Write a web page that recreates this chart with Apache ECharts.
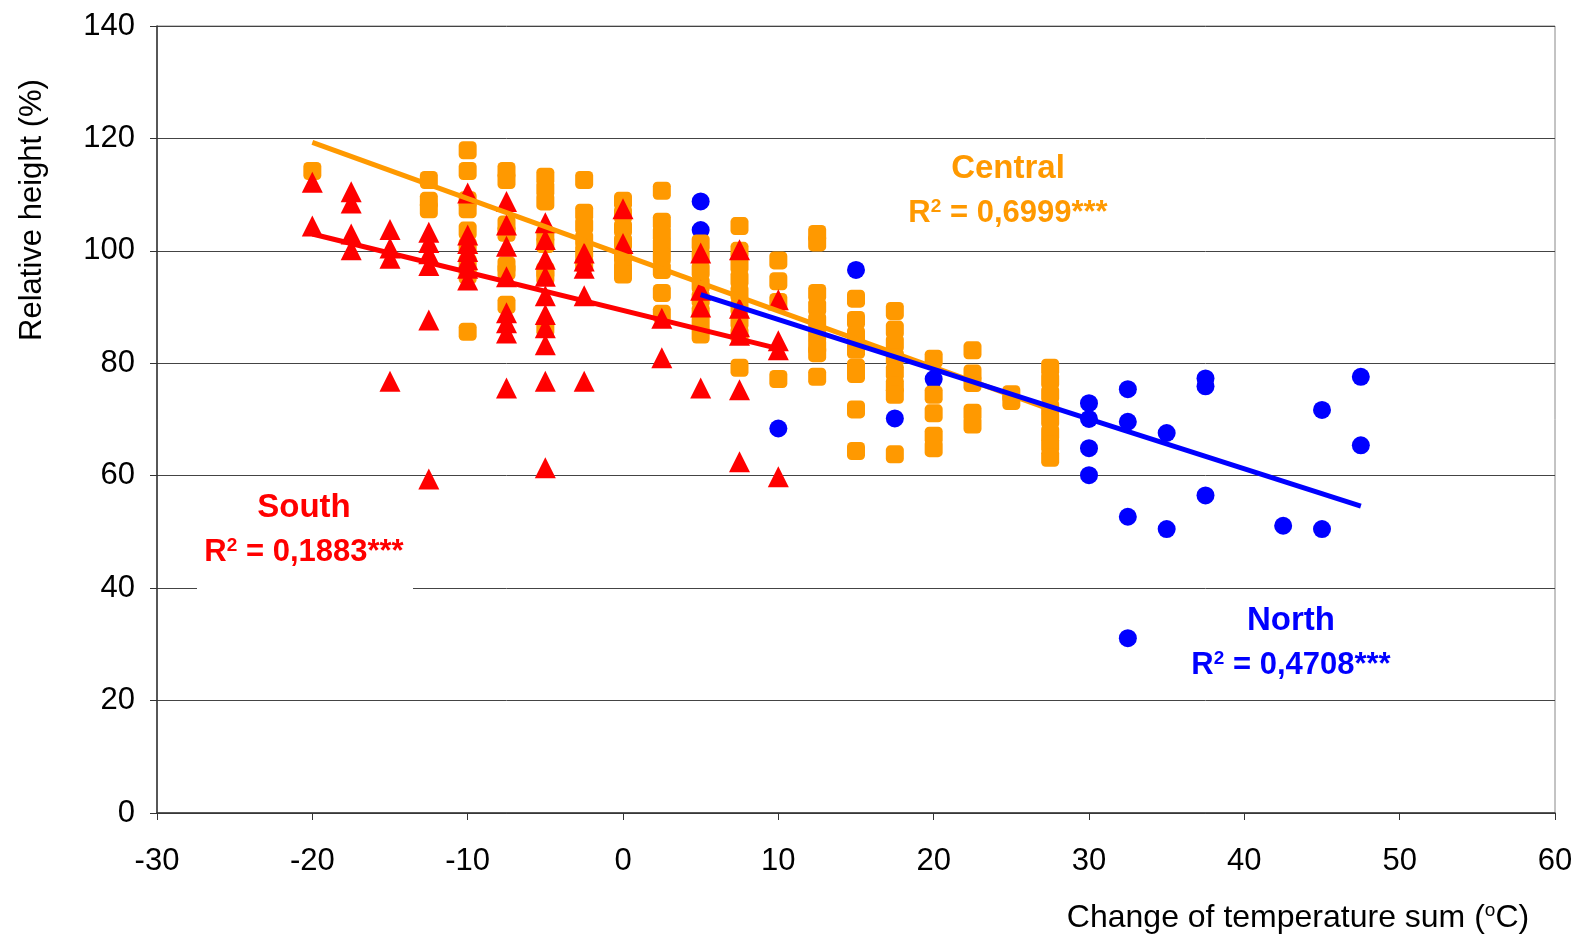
<!DOCTYPE html>
<html>
<head>
<meta charset="utf-8">
<script src="https://cdn.jsdelivr.net/npm/echarts@6/dist/echarts.min.js"></script>
<style>
html,body{margin:0;padding:0;background:#fff;}
#chart{width:1583px;height:937px;}
</style>
</head>
<body>
<div id="chart"></div>
<script>
// ---- data (x = change of temperature sum, y = relative height %) ----
const southPoints = [
  [-20,112.2],[-20,104.4],
  [-17.5,110.5],[-17.5,108.5],[-17.5,103],[-17.5,100.2],
  [-15,103.8],[-15,100.5],[-15,98.7],[-15,76.8],
  [-12.5,103.3],[-12.5,101.5],[-12.5,99.5],[-12.5,97.4],[-12.5,87.7],[-12.5,59.4],
  [-10,110.3],[-10,102.8],[-10,101.3],[-10,99.9],[-10,98.4],[-10,96.9],[-10,94.8],
  [-7.5,108.8],[-7.5,104.6],[-7.5,100.8],[-7.5,95.4],[-7.5,89],[-7.5,87.2],[-7.5,85.4],[-7.5,75.6],
  [-5,105],[-5,102],[-5,98.5],[-5,95.5],[-5,92],[-5,88.7],[-5,86.3],[-5,83.3],[-5,76.8],[-5,61.4],
  [-2.5,99.6],[-2.5,98.2],[-2.5,96.9],[-2.5,92],[-2.5,76.8],
  [0,107.5],[0,101.3],
  [2.5,88],[2.5,81],
  [5,99.6],[5,93],[5,90],[5,75.6],
  [7.5,100.2],[7.5,89.8],[7.5,86.5],[7.5,85],[7.5,75.3],[7.5,62.5],
  [10,91.3],[10,84],[10,82.4],[10,59.8]
];
const centralPoints = [
  [-20,114.2],
  [-12.5,112.6],[-12.5,108.9],[-12.5,107.4],
  [-10,117.9],[-10,114.2],[-10,109],[-10,107.4],[-10,103.6],[-10,100.8],[-10,97.8],[-10,95.7],[-10,85.6],
  [-7.5,114.2],[-7.5,112.6],[-7.5,104.7],[-7.5,103.2],[-7.5,97.4],[-7.5,96.4],[-7.5,90.4],
  [-5,113.2],[-5,111],[-5,108.8],[-5,102.8],[-5,101.2],[-5,96.4],[-5,95.5],[-5,86.3],
  [-2.5,112.6],[-2.5,106.8],[-2.5,104.5],[-2.5,102],[-2.5,99.8],[-2.5,97.7],
  [0,108.9],[0,106.5],[0,104],[0,101.5],[0,99],[0,96.8],[0,95.8],
  [2.5,110.7],[2.5,105.2],[2.5,103],[2.5,101],[2.5,99],[2.5,96.6],[2.5,92.5],[2.5,88.8],
  [5,101.3],[5,99],[5,96.5],[5,94],[5,91.5],[5,89],[5,87],[5,85.1],
  [7.5,104.4],[7.5,100],[7.5,97.5],[7.5,95],[7.5,92.5],[7.5,90],[7.5,87.5],[7.5,85.1],[7.5,79.2],
  [10,98.3],[10,94.6],[10,90.9],[10,77.2],
  [12.5,103],[12.5,101.5],[12.5,92.5],[12.5,90],[12.5,87.5],[12.5,85],[12.5,83],[12.5,81.8],[12.5,77.6],
  [15,91.5],[15,87.7],[15,85],[15,82.4],[15,79.2],[15,78.1],[15,71.8],[15,64.4],
  [17.5,89.3],[17.5,86],[17.5,83.5],[17.5,81],[17.5,78.5],[17.5,76],[17.5,74.4],[17.5,63.8],
  [20,80.8],[20,74.4],[20,71.1],[20,67.1],[20,64.9],
  [22.5,82.3],[22.5,78.2],[22.5,76.5],[22.5,71.2],[22.5,69.1],
  [25,74.5],[25,73.3],
  [27.5,79.2],[27.5,77],[27.5,74.5],[27.5,72],[27.5,70],[27.5,67.5],[27.5,65.5],[27.5,63.2]
];
const northPoints = [
  [5,108.8],[5,103.7],
  [10,68.4],[15,96.6],[17.5,70.2],[20,77.2],
  [30,72.9],[30,70.1],[30,64.9],[30,60.1],
  [32.5,75.4],[32.5,69.6],[32.5,52.7],[32.5,31.1],
  [35,67.6],[35,50.5],
  [37.5,77.3],[37.5,75.9],[37.5,56.5],
  [42.5,51.1],
  [45,71.7],[45,50.5],
  [47.5,77.6],[47.5,65.4]
];
// trend lines (end points)
const southTrend = [[-20,103.0],[10,82.6]];
const centralTrend = [[-20,119.3],[27.5,71.8]];
const northTrend = [[5,92.2],[47.5,54.6]];
// axis ticks
const xTicks = {min:-30, max:60, interval:10};
const yTicks = {min:0, max:140, interval:20};
// annotation texts
const labels = [
  {name:'Central', r2:'0,6999***', color:'#FF9900'},
  {name:'South',   r2:'0,1883***', color:'#FF0000'},
  {name:'North',   r2:'0,4708***', color:'#0000FF'}
];

const FONT = 'Liberation Sans';
const chart = echarts.init(document.getElementById('chart'));

const graphics = [
  {type:'rect', shape:{x:197, y:482, width:216, height:112}, style:{fill:'#ffffff'}, z:50},
  {type:'text', x:32, y:210, rotation:Math.PI/2, z:100,
   style:{text:'Relative height (%)', font:'31px "Liberation Sans"', fill:'#000', textAlign:'center', textVerticalAlign:'middle'}},
  {type:'text', x:1298, y:918, z:100,
   style:{text:'{a|Change of temperature sum (}{s|o}{a|C)}', textAlign:'center', textVerticalAlign:'middle',
     rich:{a:{fontFamily:FONT, fontSize:32, fill:'#000', lineHeight:33}, s:{fontFamily:FONT, fontSize:19, fill:'#000', verticalAlign:'top', lineHeight:33}}}}
];
function place(lbl, cx, cy){
  graphics.push({type:'text', x:cx, y:cy, z:100,
    style:{text:lbl.name, fill:lbl.color, font:'bold 33px "Liberation Sans"', textAlign:'center', textVerticalAlign:'middle'}});
  graphics.push({type:'text', x:cx, y:cy+44, z:100,
    style:{text:'{r|R}{s|2}{r| = ' + lbl.r2 + '}', fill:lbl.color, textAlign:'center', textVerticalAlign:'middle',
      rich:{
        r:{fontFamily:FONT, fontWeight:'bold', fontSize:31, fill:lbl.color, lineHeight:32},
        s:{fontFamily:FONT, fontWeight:'bold', fontSize:19, fill:lbl.color, verticalAlign:'top', lineHeight:32}
      }}});
}
place(labels[0], 1008, 169);
place(labels[1], 304, 508);
place(labels[2], 1291, 621);

const option = {
  backgroundColor:'#ffffff',
  animation:false,
  grid:{left:157, right:28, top:26, bottom:124, show:true, borderColor:'#888', borderWidth:1, backgroundColor:'transparent'},
  xAxis:{
    type:'value', min:xTicks.min, max:xTicks.max, interval:xTicks.interval,
    axisLine:{show:true, onZero:false, lineStyle:{color:'#333', width:1.5}},
    axisTick:{show:true, length:7, lineStyle:{color:'#333'}},
    axisLabel:{fontFamily:FONT, fontSize:31, color:'#000', margin:33},
    splitLine:{show:false}
  },
  yAxis:{
    type:'value', min:yTicks.min, max:yTicks.max, interval:yTicks.interval,
    axisLine:{show:true, onZero:false, lineStyle:{color:'#333', width:1.5}},
    axisTick:{show:true, length:7, lineStyle:{color:'#333'}},
    axisLabel:{fontFamily:FONT, fontSize:31, color:'#000', margin:22},
    splitLine:{show:true, lineStyle:{color:'#444', width:1}}
  },
  series:[
    {type:'scatter', name:'North', data:northPoints, symbol:'circle', symbolSize:18,
     itemStyle:{color:'#0000FF', opacity:1}, z:2},
    {type:'scatter', name:'Central', data:centralPoints, symbol:'roundRect', symbolSize:18,
     itemStyle:{color:'#FF9900', opacity:1}, z:3},
    {type:'scatter', name:'South', data:southPoints, symbol:'triangle', symbolSize:[21,21],
     itemStyle:{color:'#FF0000', opacity:1}, z:4},
    {type:'line', data:southTrend, showSymbol:false, symbol:'none', lineStyle:{color:'#FF0000', width:5}, z:5},
    {type:'line', data:centralTrend, showSymbol:false, symbol:'none', lineStyle:{color:'#FF9900', width:5}, z:6},
    {type:'line', data:northTrend, showSymbol:false, symbol:'none', lineStyle:{color:'#0000FF', width:5}, z:7}
  ],
  graphic:graphics
};
chart.setOption(option);
</script>
</body>
</html>
